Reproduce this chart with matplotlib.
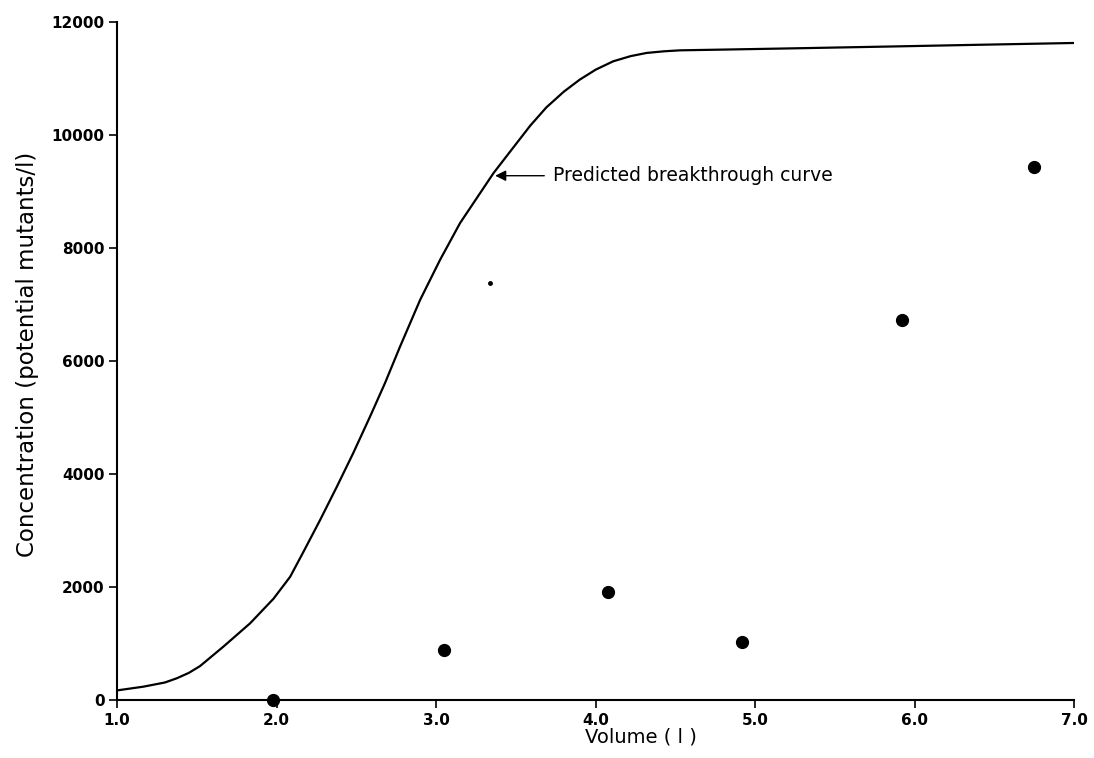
import matplotlib
matplotlib.use("Agg")
import matplotlib.pyplot as plt

# Predicted breakthrough curve
curve_x = [1.0, 1.165, 1.30, 1.374, 1.45, 1.52, 1.666, 1.834, 1.98, 2.085, 2.168, 2.273, 2.378, 2.48,
           2.586, 2.68, 2.774, 2.9, 3.025, 3.15, 3.276, 3.36, 3.48, 3.59, 3.69, 3.80,
           3.90, 4.00, 4.11, 4.22, 4.32, 4.43, 4.53, 4.78, 5.2, 5.82, 6.4, 7.0]
curve_y = [170, 236, 310, 384, 480, 600, 943, 1357, 1790, 2180, 2620, 3186, 3775, 4366,
           5015, 5610, 6253, 7080, 7788, 8437, 8968, 9322, 9760, 10160, 10480, 10760,
           10973, 11150, 11298, 11390, 11446, 11475, 11492, 11504, 11525, 11558, 11590, 11622]

# Measured points
obs_x = [1.98, 3.05, 4.08, 4.92, 5.92, 6.75]
obs_y = [0, 880, 1910, 1030, 6730, 9420]

# small speck
speck_x = [3.34]
speck_y = [7375]

xticks = [1.0, 2.0, 3.0, 4.0, 5.0, 6.0, 7.0]
xticklabels = ["1.0", "2.0", "3.0", "4.0", "5.0", "6.0", "7.0"]
yticks = [0, 2000, 4000, 6000, 8000, 10000, 12000]

fig = plt.figure(figsize=(10.94, 7.58), dpi=100)
ax = fig.add_axes([0.107, 0.0765, 0.875, 0.895])

ax.plot(curve_x, curve_y, color="black", lw=1.6)
ax.plot(obs_x, obs_y, "o", color="black", ms=8.5, clip_on=False, zorder=5)
ax.plot(speck_x, speck_y, "o", color="black", ms=2.5)

ax.annotate("Predicted breakthrough curve", xy=(3.37, 9274), xytext=(3.73, 9274),
            fontsize=13.5, va="center", ha="left",
            arrowprops=dict(arrowstyle="-|>", color="black", lw=1.0, mutation_scale=16,
                            shrinkA=4, shrinkB=0))

ax.set_xlim(1.0, 7.0)
ax.set_ylim(0, 12000)
ax.set_xticks(xticks)
ax.set_xticklabels(xticklabels)
ax.set_yticks(yticks)
for lab in ax.get_xticklabels() + ax.get_yticklabels():
    lab.set_fontweight("bold")
    lab.set_fontsize(11)
ax.spines["top"].set_visible(False)
ax.spines["right"].set_visible(False)
ax.spines["left"].set_linewidth(1.5)
ax.spines["bottom"].set_linewidth(1.5)
ax.tick_params(direction="out", length=6, width=1.2, pad=3)
ax.set_xlabel("Volume ( l )", fontsize=14)
ax.set_ylabel("Concentration (potential mutants/l)", fontsize=16.5)
ax.xaxis.set_label_coords(0.547, -0.041, transform=ax.transAxes)
ax.yaxis.set_label_coords(-0.082, 0.509, transform=ax.transAxes)

fig.savefig("out.png", dpi=100)
